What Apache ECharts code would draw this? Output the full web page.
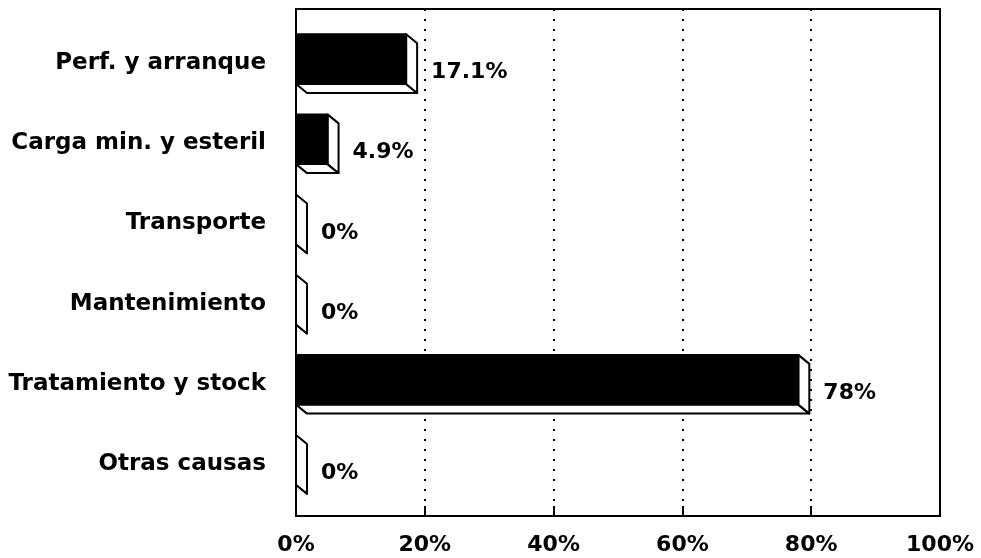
<!DOCTYPE html>
<html>
<head>
<meta charset="utf-8">
<script src="https://cdn.jsdelivr.net/npm/echarts@6/dist/echarts.min.js"></script>
<style>
  html, body { margin: 0; padding: 0; background: #fff; }
  #chart { width: 981px; height: 558px; }
</style>
</head>
<body>
<div id="chart"></div>
<script>
// Causes, top to bottom
const categories = [
  'Perf. y arranque',
  'Carga min. y esteril',
  'Transporte',
  'Mantenimiento',
  'Tratamiento y stock',
  'Otras causas'
];
// Share of each cause, in percent
const shares = [17.1, 4.9, 0, 0, 78, 0];
// Percent axis ticks
const tickValues = [0, 20, 40, 60, 80, 100];
const tickLabels = ['0%', '20%', '40%', '60%', '80%', '100%'];

const FONT = 'DejaVu Sans';
const DX = 11, DY = 9;   // depth offset of the extruded bars

function pctText(v) {
  return (Math.round(v * 10) / 10) + '%';
}

// Extruded bar: black front face, white right and bottom faces
function renderBar(params, api) {
  const v = api.value(0);
  const idx = api.value(1);
  const start = api.coord([0, idx]);
  const end = api.coord([v, idx]);
  const band = api.size([0, 1])[1];
  const h = band * 0.62;
  const x0 = start[0], x1 = end[0];
  const y0 = start[1] - h / 2, y1 = y0 + h;
  const edge = { stroke: '#000', lineWidth: 2, lineJoin: 'round' };
  return {
    type: 'group',
    children: [
      {
        type: 'polygon',
        shape: { points: [[x0, y1], [x1, y1], [x1 + DX, y1 + DY], [x0 + DX, y1 + DY]] },
        style: Object.assign({ fill: '#fff' }, edge)
      },
      {
        type: 'polygon',
        shape: { points: [[x1, y0], [x1 + DX, y0 + DY], [x1 + DX, y1 + DY], [x1, y1]] },
        style: Object.assign({ fill: '#fff' }, edge)
      },
      {
        type: 'rect',
        shape: { x: x0, y: y0, width: x1 - x0, height: h },
        style: Object.assign({ fill: '#000' }, edge)
      },
      {
        type: 'text',
        style: {
          text: pctText(v),
          x: x1 + DX + 14,
          y: start[1] + DY / 2 + 9,
          align: 'left',
          verticalAlign: 'middle',
          fill: '#000',
          font: 'bold 22px "' + FONT + '"'
        }
      }
    ]
  };
}

const chart = echarts.init(document.getElementById('chart'), null, { renderer: 'canvas' });

chart.setOption({
  animation: false,
  backgroundColor: '#fff',
  grid: [
    // frame with the percent scale
    { left: 296, right: 41, top: 9, bottom: 42, show: true, borderColor: '#000', borderWidth: 2, containLabel: false },
    // band area holding the bars
    { left: 296, right: 41, top: 19, bottom: 58, containLabel: false }
  ],
  xAxis: [
    {
      gridIndex: 0,
      type: 'value',
      min: tickValues[0],
      max: tickValues[tickValues.length - 1],
      interval: tickValues[1] - tickValues[0],
      axisLine: { show: true, lineStyle: { color: '#000', width: 2 } },
      axisTick: { show: true, inside: true, length: 10, lineStyle: { color: '#000', width: 2 } },
      axisLabel: {
        margin: 18,
        color: '#000',
        fontFamily: FONT,
        fontWeight: 'bold',
        fontSize: 22,
        formatter: function (val) { return tickLabels[tickValues.indexOf(val)]; }
      },
      splitLine: { show: true, lineStyle: { color: '#000', width: 2, type: [2, 8] } }
    },
    {
      gridIndex: 1,
      type: 'value',
      min: tickValues[0],
      max: tickValues[tickValues.length - 1],
      show: false
    }
  ],
  yAxis: [
    {
      gridIndex: 0,
      type: 'value',
      min: 0,
      max: 1,
      axisLine: { show: true, lineStyle: { color: '#000', width: 2 } },
      axisTick: { show: false },
      axisLabel: { show: false },
      splitLine: { show: false }
    },
    {
      gridIndex: 1,
      type: 'category',
      data: categories,
      inverse: true,
      axisLine: { show: false },
      axisTick: { show: false },
      splitLine: { show: false },
      axisLabel: {
        margin: 30,
        color: '#000',
        fontFamily: FONT,
        fontWeight: 'bold',
        fontSize: 23,
        verticalAlign: 'top',
        lineHeight: 8
      }
    }
  ],
  series: [
    {
      type: 'custom',
      xAxisIndex: 1,
      yAxisIndex: 1,
      renderItem: renderBar,
      encode: { x: 0, y: 1 },
      data: shares.map(function (v, i) { return [v, i]; }),
      z: 3
    }
  ]
});
</script>
</body>
</html>
